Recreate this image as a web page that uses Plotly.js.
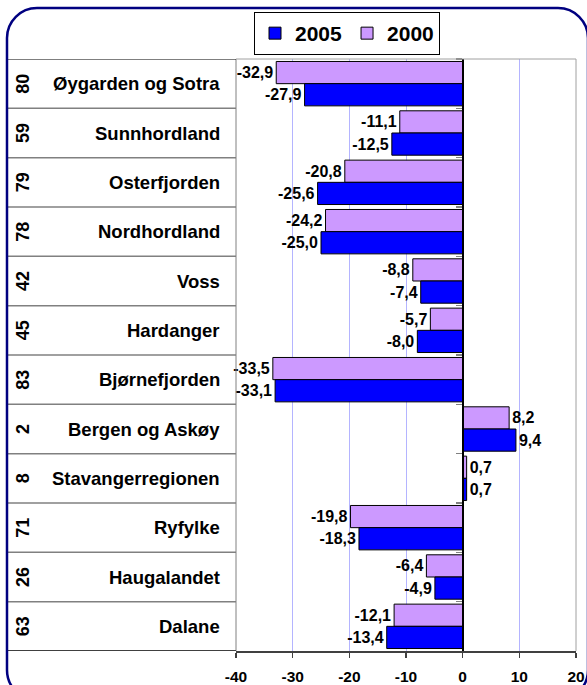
<!DOCTYPE html>
<html>
<head>
<meta charset="utf-8">
<script src="https://cdn.plot.ly/plotly-3.0.1.min.js"></script>
<style>
html,body{margin:0;padding:0;background:#fff;}
#chart{width:587px;height:685px;}
</style>
</head>
<body>
<div id="chart"></div>
<script>
// ---- data ----
const regions = ["Øygarden og Sotra","Sunnhordland","Osterfjorden","Nordhordland","Voss","Hardanger","Bjørnefjorden","Bergen og Askøy","Stavangerregionen","Ryfylke","Haugalandet","Dalane"];
const codes = ["80","59","79","78","42","45","83","2","8","71","26","63"];
const values2000 = [-32.9,-11.1,-20.8,-24.2,-8.8,-5.7,-33.5,8.2,0.7,-19.8,-6.4,-12.1];
const values2005 = [-27.9,-12.5,-25.6,-25.0,-7.4,-8.0,-33.1,9.4,0.7,-18.3,-4.9,-13.4];
const xTickVals = [-40,-30,-20,-10,0,10,20];
const xTickText = ["-40","-30","-20","-10","0","10","20"];
const seriesNames = ["2000","2005"];

// ---- layout helpers (pixel -> paper) ----
const L=236, R=576, T=59, B=651;
const W=R-L, H=B-T;
const px = x => (x-L)/W;
const py = y => (B-y)/H;
const FONT = "Arial, 'Liberation Sans', Helvetica, sans-serif";
const fmt = v => v.toFixed(1).replace('.', ',');

const traces = [
  {type:'bar', orientation:'h', name:seriesNames[0], y:regions, x:values2000,
   marker:{color:'#cc99ff', line:{color:'#000000', width:1}},
   text:values2000.map(fmt), textposition:'outside', cliponaxis:false, constraintext:'none',
   textfont:{family:FONT, size:16, color:'#000', weight:'bold'}, hoverinfo:'none'},
  {type:'bar', orientation:'h', name:seriesNames[1], y:regions, x:values2005,
   marker:{color:'#0000ff', line:{color:'#000000', width:1}},
   text:values2005.map(fmt), textposition:'outside', cliponaxis:false, constraintext:'none',
   textfont:{family:FONT, size:16, color:'#000', weight:'bold'}, hoverinfo:'none'}
];

// rounded border path
function roundRect(x0,y0,x1,y1,r){
  const k=0.5523*r;
  const P=(x,y)=>px(x).toFixed(5)+','+py(y).toFixed(5);
  return 'M'+P(x0+r,y0)+' L'+P(x1-r,y0)+
    ' C'+P(x1-r+k,y0)+' '+P(x1,y0+r-k)+' '+P(x1,y0+r)+
    ' L'+P(x1,y1-r)+
    ' C'+P(x1,y1-r+k)+' '+P(x1-r+k,y1)+' '+P(x1-r,y1)+
    ' L'+P(x0+r,y1)+
    ' C'+P(x0+r-k,y1)+' '+P(x0,y1-r+k)+' '+P(x0,y1-r)+
    ' L'+P(x0,y0+r)+
    ' C'+P(x0,y0+r-k)+' '+P(x0+r-k,y0)+' '+P(x0+r,y0)+' Z';
}

const shapes = [];
// plot area border (left, top, right)
shapes.push({type:'line', xref:'paper', yref:'paper', x0:0, x1:0, y0:0, y1:1, line:{color:'#808080', width:1}, layer:'above'});
shapes.push({type:'line', xref:'paper', yref:'paper', x0:0, x1:1, y0:1, y1:1, line:{color:'#a0a0a0', width:1}, layer:'above'});
shapes.push({type:'line', xref:'paper', yref:'paper', x0:1, x1:1, y0:0, y1:1, line:{color:'#a0a0a0', width:1}, layer:'above'});
// table row lines
for (let k=0; k<=regions.length; k++){
  let color = '#808080', w=1.5;
  if (k===0){color='#000000'; w=1.2;}
  if (k===regions.length){color='#404040'; w=2;}
  shapes.push({type:'line', xref:'paper', yref:'y', x0:px(8), x1:0, y0:k-0.5, y1:k-0.5, line:{color:color, width:w}, layer:'above'});
}
// outer rounded border
shapes.push({type:'path', xref:'paper', yref:'paper', path:roundRect(7,8,588,700,30), line:{color:'#000080', width:2.5}, fillcolor:'rgba(0,0,0,0)', layer:'above'});

const annotations = [];
regions.forEach((r,i)=>{
  annotations.push({xref:'paper', yref:'y', x:px(222), y:r, text:r, showarrow:false, xanchor:'right', yanchor:'middle',
    font:{family:FONT, size:18.5, color:'#000', weight:'bold'}});
  annotations.push({xref:'paper', yref:'y', x:px(23), y:r, text:codes[i], showarrow:false, xanchor:'center', yanchor:'middle', textangle:-90,
    font:{family:FONT, size:18, color:'#000', weight:'bold'}});
});

const layout = {
  width:587, height:685,
  margin:{l:L, r:587-R, t:T, b:685-B, pad:0},
  paper_bgcolor:'#ffffff', plot_bgcolor:'#ffffff',
  font:{family:FONT, color:'#000'},
  barmode:'group', bargap:0.1, bargroupgap:0,
  showlegend:true,
  legend:{orientation:'h', x:px(347), xanchor:'center', y:py(12), yanchor:'top',
    bgcolor:'#ffffff', bordercolor:'#000000', borderwidth:1, borderpad:0, traceorder:'reversed',
    font:{family:FONT, size:21, color:'#000', weight:'bold'}, itemwidth:30},
  xaxis:{range:[-40,20], tickmode:'array', tickvals:xTickVals, ticktext:xTickText,
    showgrid:true, gridcolor:'#b4b4ff', gridwidth:1, zeroline:false,
    showline:true, linecolor:'#404040', linewidth:2,
    ticks:'outside', ticklen:5, tickwidth:1.5, tickcolor:'#404040', ticklabelstandoff:5,
    tickfont:{family:FONT, size:15.5, color:'#000', weight:'bold'}, fixedrange:true},
  yaxis:{type:'category', categoryorder:'array', categoryarray:regions, range:[regions.length-0.5,-0.5],
    anchor:'free', position:px(462), showline:true, linecolor:'#000000', linewidth:1.5,
    ticks:'outside', tickson:'boundaries', ticklen:6, tickwidth:1.5, tickcolor:'#808080',
    showticklabels:false, showgrid:false, zeroline:false, fixedrange:true},
  shapes:shapes,
  annotations:annotations
};

Plotly.newPlot('chart', traces, layout, {staticPlot:true, displayModeBar:false});
</script>
</body>
</html>
